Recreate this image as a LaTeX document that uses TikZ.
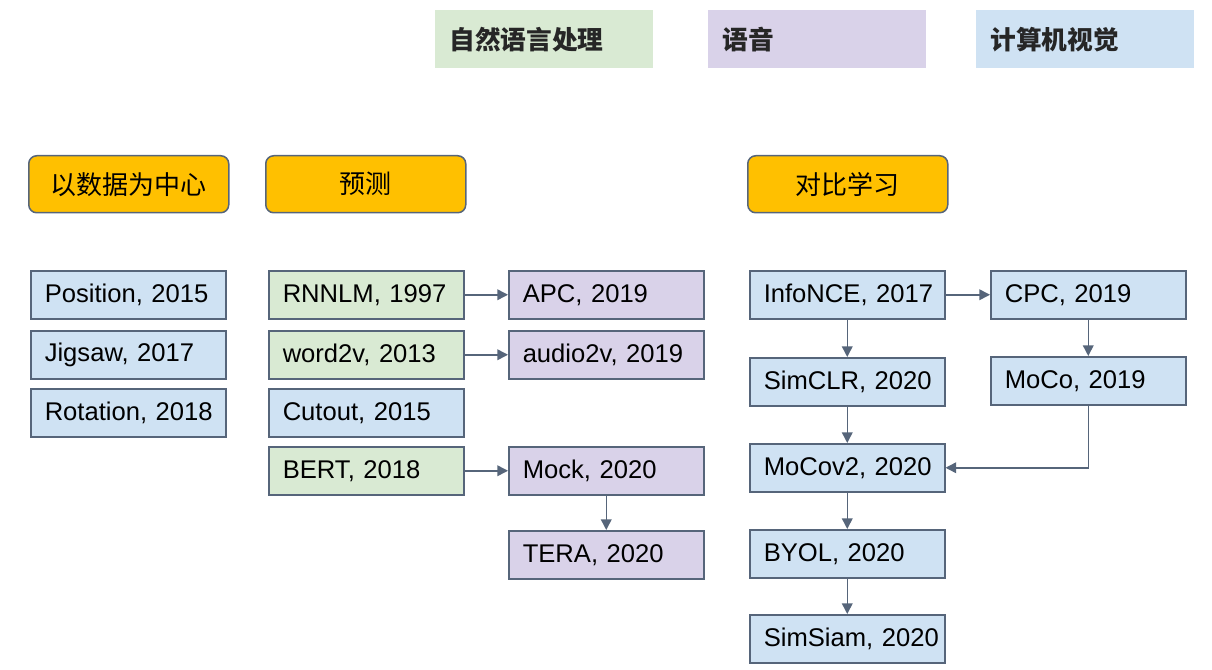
\documentclass[tikz,border=0pt]{standalone}
\usepackage{fontspec}
\setmainfont{Liberation Sans}
\newfontfamily\cjk{Noto Sans CJK SC}
\usetikzlibrary{arrows.meta}
\newdimen\px \px=0.75pt
\definecolor{nlp}{HTML}{D9EAD3}
\definecolor{sp}{HTML}{D9D2E9}
\definecolor{cv}{HTML}{CFE2F3}
\definecolor{hdr}{HTML}{FFC000}
\definecolor{edge}{HTML}{56657A}
\definecolor{legtxt}{HTML}{262626}
\tikzset{
  item/.style={draw=edge, line width=1.5\px, anchor=north west, minimum height=48\px,
    text width=189\px, inner xsep=3\px, inner ysep=0pt, align=left,
    execute at begin node={\hspace*{11\px}},
    font=\fontsize{19.2}{23}\selectfont},
  hbox/.style={draw=edge, line width=1.5\px, fill=hdr, rounded corners=8\px, anchor=north west,
    minimum width=200\px, minimum height=57\px, inner sep=0pt,
    font=\cjk\fontsize{19.5}{23}\selectfont},
  lbox/.style={anchor=north west, minimum height=58\px, text width=190\px, inner xsep=14\px,
    inner ysep=0pt, align=left, text=legtxt, font=\cjk\bfseries\fontsize{19.3}{23}\selectfont},
  arr/.style={draw=edge, line width=1.5\px, -{Triangle[length=8pt,width=8pt]}}
}
\begin{document}
\begin{tikzpicture}[x=0.75pt,y=-0.75pt]
\useasboundingbox (0,0) rectangle (1212,670);
% legend
\node[lbox, fill=nlp] (lnlp) at (435,10) {自然语言处理};
\node[lbox, fill=sp] (lsp) at (708,10) {语音};
\node[lbox, fill=cv] (lcv) at (976,10) {计算机视觉};
% headers
\node[hbox] (h1) at (28,155) {以数据为中心};
\node[hbox] (h2) at (265,155) {预测};
\node[hbox] (h3) at (747,155) {对比学习};
% column 1
\node[item, fill=cv] (pos) at (30,270) {Position, 2015};
\node[item, fill=cv] (jig) at (30,330) {Jigsaw, 2017};
\node[item, fill=cv] (rot) at (30,388) {Rotation, 2018};
% column 2
\node[item, fill=nlp] (rnn) at (268,270) {RNNLM, 1997};
\node[item, fill=nlp] (w2v) at (268,330) {word2v, 2013};
\node[item, fill=cv] (cut) at (268,388) {Cutout, 2015};
\node[item, fill=nlp] (bert) at (268,446) {BERT, 2018};
\node[item, fill=sp] (apc) at (508,270) {APC, 2019};
\node[item, fill=sp] (a2v) at (508,330) {audio2v, 2019};
\node[item, fill=sp] (mock) at (508,446) {Mock, 2020};
\node[item, fill=sp] (tera) at (508,530) {TERA, 2020};
% column 3
\node[item, fill=cv] (info) at (749,270) {InfoNCE, 2017};
\node[item, fill=cv] (simclr) at (749,357) {SimCLR, 2020};
\node[item, fill=cv] (mocov2) at (749,443) {MoCov2, 2020};
\node[item, fill=cv] (byol) at (749,529) {BYOL, 2020};
\node[item, fill=cv] (simsiam) at (749,614) {SimSiam, 2020};
\node[item, fill=cv] (cpc) at (990,270) {CPC, 2019};
\node[item, fill=cv] (moco) at (990,356) {MoCo, 2019};
% arrows
\draw[arr] (rnn.east) -- (apc.west);
\draw[arr] (w2v.east) -- (a2v.west);
\draw[arr] (bert.east) -- (mock.west);
\draw[arr] (mock.south) -- (tera.north);
\draw[arr] (info.east) -- (info.east -| cpc.west);
\draw[arr] (info.south) -- (simclr.north);
\draw[arr] (simclr.south) -- (mocov2.north);
\draw[arr] (mocov2.south) -- (byol.north);
\draw[arr] (byol.south) -- (simsiam.north);
\draw[arr] (cpc.south) -- (moco.north);
\draw[arr] (moco.south) |- (mocov2.east);
\end{tikzpicture}
\end{document}
